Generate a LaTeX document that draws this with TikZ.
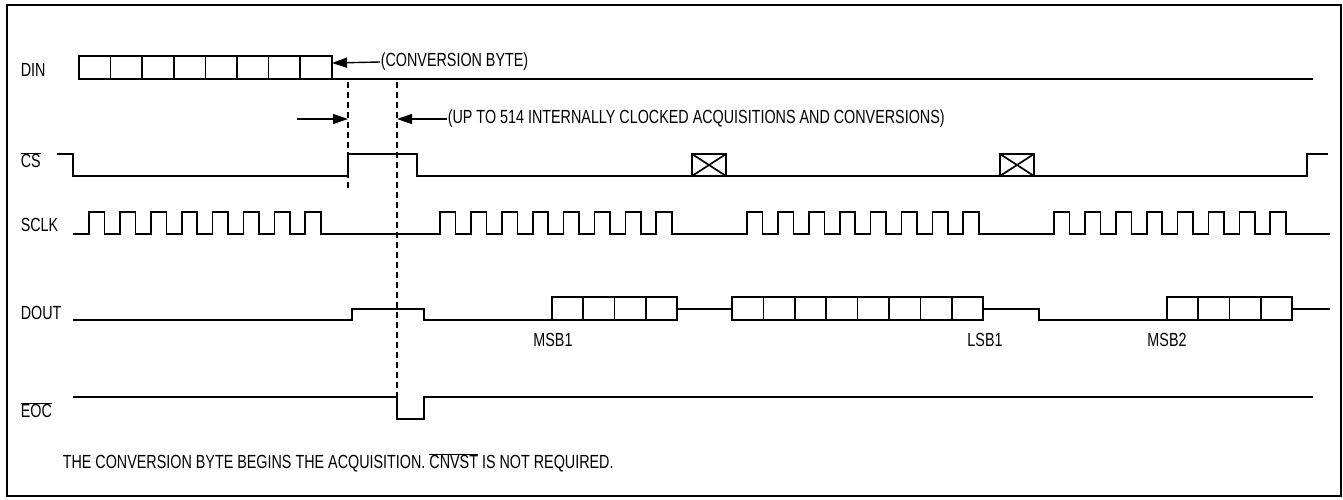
\documentclass[tikz,border=0pt]{standalone}
\usepackage{fontspec}
\setmainfont{Liberation Sans}[FakeStretch=0.755]
\usetikzlibrary{arrows.meta}
\newcommand{\ovl}[1]{$\overline{\mbox{#1}}$}
\tikzset{every path/.style={line width=1.6pt}}
\tikzset{sig/.style={line width=1.7pt, line join=miter},
  guide/.style={line width=1.1pt, dash pattern=on 6pt off 4pt},
  lbl/.style={anchor=west, inner sep=0pt, font=\fontsize{19}{22}\selectfont},
  pointer/.style={line width=1.4pt, -{Triangle[length=15pt,width=10pt]}}}

\begin{document}
\begin{tikzpicture}[x=1pt,y=-1pt]
    \useasboundingbox (0,0) rectangle (1343,499);
    \draw[line width=2pt] (7,5) rectangle (1341,496);
    % signal names
    \node[lbl] (din)  at (20,70)  {DIN};
    \node[lbl] (cs)   at (20,160) {\ovl{CS}};
    \node[lbl] (sclk) at (20,225) {SCLK};
    \node[lbl] (dout) at (20,313) {DOUT};
    \node[lbl] (eoc)  at (20,410) {\ovl{EOC}};
    % DIN
    \foreach \i in {0,...,7}
      \draw[sig] ({79+31.6*\i},56) rectangle ({79+31.6*(\i+1)},79);
    \draw[sig] (332,79) -- (1313,79);
    \coordinate (bytend) at (332,63);
    \node[lbl] (cbyte) at (380,62) {(CONVERSION BYTE)};
    \draw[pointer] (cbyte.west) -- (bytend);
    % timing marks
    \coordinate (m1) at (348,119);
    \coordinate (m2) at (397,119);
    \coordinate (m0) at (297,119);
    \draw[guide] (348,82) -- (348,190);
    \draw[guide] (397,82) -- (397,397);
    \node[lbl] (upto) at (447,119) {(UP TO 514 INTERNALLY CLOCKED ACQUISITIONS AND CONVERSIONS)};
    \draw[pointer] (m0) -- (m1);
    \draw[pointer] (upto.west) -- (m2);
    % CS
    \draw[sig] (57,154) -- (73,154) -- (73,176) -- (348,176) -- (348,154) -- (417,154)
      -- (417,176) -- (1307,176) -- (1307,154) -- (1328,154);
    \foreach \x in {692,1000} {
      \draw[sig] (\x,154) rectangle ++(34,22);
      \draw[sig] (\x,154) -- ++(34,22) (\x,176) -- ++(34,-22);
    }
    % SCLK
    \draw[sig] (73,234) foreach \s in {89,440,747,1054} {
        foreach \k in {0,...,7} {
          -- ({\s+30.9*\k},234) -- ++(0,-22) -- ++(15.6,0) -- ++(0,22)
        }
      } -- (1330,234);
    % DOUT
    \draw[sig] (73,320) -- (352,320) -- (352,309) -- (424,309) -- (424,320) -- (552,320);
    \foreach \x/\n/\w in {552/4/31.25, 732/8/31.4, 1167/4/31.25} {
      \foreach \i in {1,...,\n}
        \draw[sig] ({\x+\w*(\i-1)},297) rectangle ({\x+\w*\i},320);
    }
    \draw[sig] (677,309) -- (732,309);
    \draw[sig] (983,309) -- (1039,309) -- (1039,320) -- (1167,320);
    \draw[sig] (1292,309) -- (1330,309);
    \node[font=\fontsize{19}{22}\selectfont] (msb1) at (553,340) {MSB1};
    \node[font=\fontsize{19}{22}\selectfont] (lsb1) at (985,340) {LSB1};
    \node[font=\fontsize{19}{22}\selectfont] (msb2) at (1167,340) {MSB2};
    % EOC
    \draw[sig] (73,397) -- (397,397) -- (397,419) -- (424,419) -- (424,397) -- (1313,397);
    % note
    \node[lbl] (note) at (62,463) {THE CONVERSION BYTE BEGINS THE ACQUISITION. \ovl{CNVST} IS NOT REQUIRED.};
  \end{tikzpicture}
\end{document}
